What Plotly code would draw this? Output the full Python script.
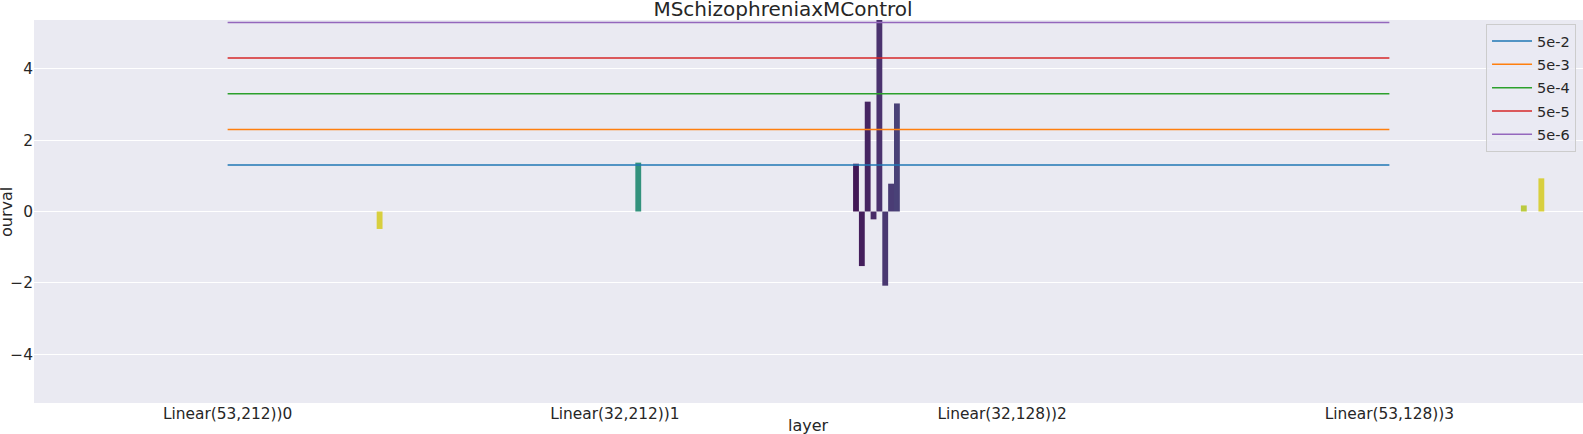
import colorsys
import math

import numpy as np
import plotly.graph_objects as go
from plotly.colors import sample_colorscale, sequential, hex_to_rgb

# categories on x
layers = ['Linear(53,212))0', 'Linear(32,212))1', 'Linear(32,128))2', 'Linear(53,128))3']

# bars that are non-empty: layer index, hue index, value
bar_layer = [0, 1, 2, 2, 2, 2, 2, 2, 2, 2, 3, 3]
bar_hue = [52, 30, 1, 2, 3, 4, 5, 6, 7, 8, 49, 52]
bar_value = [-0.49, 1.37, 1.34, -1.53, 3.08, -0.22, 5.37, -2.08, 0.78, 3.03, 0.17, 0.93]
n_hues = 53

# significance thresholds drawn as lines
threshold_labels = ['5e-2', '5e-3', '5e-4', '5e-5', '5e-6']
threshold_colors = ['#1f77b4', '#ff7f0e', '#2ca02c', '#d62728', '#9467bd']

y_limit = 5.37


def desaturate(rgb_str, prop=0.75):
    rgb_str = rgb_str.strip()
    if rgb_str.startswith('#'):
        r, g, b = hex_to_rgb(rgb_str)
    else:
        r, g, b = [float(v) for v in rgb_str[rgb_str.index('(') + 1:-1].split(',')]
    h, l, s = colorsys.rgb_to_hls(r / 255, g / 255, b / 255)
    r, g, b = colorsys.hls_to_rgb(h, l, s * prop)
    return 'rgb(%d,%d,%d)' % (round(r * 255), round(g * 255), round(b * 255))


palette = sample_colorscale(sequential.Viridis, list(np.linspace(0, 1, n_hues + 2)[1:-1]))
palette = [desaturate(c) for c in palette]

fig = go.Figure()

for h in range(n_hues):
    ys = [None] * len(layers)
    for li, hi, v in zip(bar_layer, bar_hue, bar_value):
        if hi == h:
            ys[li] = v
    fig.add_trace(go.Bar(x=layers, y=ys, name=str(h), marker=dict(color=palette[h], line=dict(width=0)),
                         showlegend=False))

for label, color in zip(threshold_labels, threshold_colors):
    level = -math.log10(float(label))
    fig.add_trace(go.Scatter(x=[layers[0], layers[-1]], y=[level, level], mode='lines', name=label,
                             legendgroup=label, line=dict(color=color, width=1.5)))

font = 'DejaVu Sans, sans-serif'
text_color = '#262626'
fig.update_layout(
    width=1583, height=434,
    barmode='group', bargap=0.2, bargroupgap=0,
    plot_bgcolor='#EAEAF2', paper_bgcolor='white',
    margin=dict(l=34, r=0, t=20, b=31, autoexpand=False),
    font=dict(family=font, size=15.4, color=text_color),
    title=dict(text='MSchizophreniaxMControl', x=(783 - 34) / 1549, xanchor='center', xref='paper',
               y=1 - 9 / 434, yanchor='middle', font=dict(size=20, color=text_color)),
    legend=dict(x=0.9955, xanchor='right', y=0.9895, yanchor='top', bgcolor='rgba(234,234,242,0.8)',
                bordercolor='#cccccc', borderwidth=1, font=dict(size=14.5), tracegroupgap=1.5,
                itemwidth=40),
    xaxis=dict(showgrid=False, ticks='', tickfont=dict(size=15.4), zeroline=False, automargin=False),
    yaxis=dict(range=[-y_limit, y_limit], tickvals=[-4, -2, 0, 2, 4], gridcolor='white', gridwidth=1.2,
               zeroline=True, zerolinecolor='white', zerolinewidth=1.2, tickfont=dict(size=15.4),
               ticks='', automargin=False),
    annotations=[
        dict(text='layer', xref='paper', x=0.5, xanchor='center', yref='paper', y=-(425 - 403) / 383,
             yanchor='middle', showarrow=False, font=dict(size=16, color=text_color)),
        dict(text='ourval', xref='paper', x=-(34 - 6.5) / 1549, xanchor='center', yref='paper', y=0.5,
             yanchor='middle', textangle=-90, showarrow=False, font=dict(size=16, color=text_color)),
    ],
)

fig.write_html("out.html", config={'displayModeBar': False},
               post_script="document.body.style.margin='0';")
